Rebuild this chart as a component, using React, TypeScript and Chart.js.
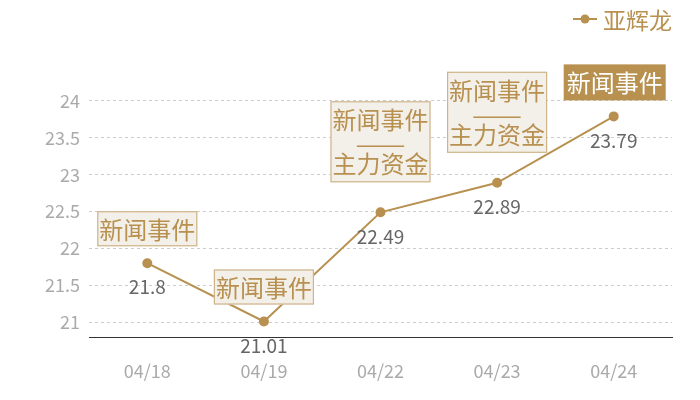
import React, { useEffect, useRef } from "react";
import { Chart, registerables, Plugin } from "chart.js";

Chart.register(...registerables);

const dates = ["04/18", "04/19", "04/22", "04/23", "04/24"];
const prices = [21.8, 21.01, 22.49, 22.89, 23.79];
const yTicks = [21, 21.5, 22, 22.5, 23, 23.5, 24];
const seriesName = "亚辉龙";
// annotation text per point; extra lines go under a dash separator
const events: string[][] = [
  ["新闻事件"],
  ["新闻事件"],
  ["新闻事件", "——", "主力资金"],
  ["新闻事件", "——", "主力资金"],
  ["新闻事件"],
];
const highlighted = [false, false, false, false, true];

const GOLD = "#b8904f";
const FONT = "'Noto Sans CJK SC', 'Noto Sans', sans-serif";

const overlay: Plugin<"line"> = {
  id: "overlay",
  afterDatasetsDraw(chart) {
    const ctx = chart.ctx;
    const meta = chart.getDatasetMeta(0);
    ctx.save();
    // value labels under each point
    ctx.font = `19px ${FONT}`;
    ctx.fillStyle = "#666";
    ctx.textAlign = "center";
    ctx.textBaseline = "middle";
    meta.data.forEach((pt, i) => {
      ctx.fillText(String(prices[i]), pt.x, pt.y + 24);
    });
    // event boxes above each point
    meta.data.forEach((pt, i) => {
      const lines = events[i];
      const multi = lines.length > 1;
      const w = 100;
      const h = multi ? 81 : 35;
      const bottom = pt.y - (multi ? 30 : 17);
      const top = bottom - h;
      const left = pt.x - w / 2;
      if (highlighted[i]) {
        ctx.fillStyle = GOLD;
        ctx.fillRect(left, top, w + 2, h + 1);
      } else {
        ctx.fillStyle = "rgba(243,239,233,0.97)";
        ctx.fillRect(left, top, w, h);
        ctx.strokeStyle = "#cfb48a";
        ctx.lineWidth = 1.2;
        ctx.strokeRect(left + 0.5, top + 0.5, w - 1, h - 1);
      }
      ctx.fillStyle = highlighted[i] ? "#fff" : GOLD;
      ctx.font = `24px ${FONT}`;
      if (multi) {
        ctx.fillText(lines[0], pt.x, top + 19);
        // stretch the dash separator to the reference width
        const dw = ctx.measureText(lines[1]).width || 1;
        ctx.save();
        ctx.translate(pt.x, top + 43);
        ctx.scale(50 / dw, 1);
        ctx.fillText(lines[1], 0, 0);
        ctx.restore();
        ctx.fillText(lines[2], pt.x, top + 63);
      } else {
        ctx.fillText(lines[0], pt.x + (highlighted[i] ? 1 : 0), top + h / 2 + 1);
      }
    });
    // legend, top right
    ctx.strokeStyle = GOLD;
    ctx.lineWidth = 2;
    ctx.beginPath();
    ctx.moveTo(573, 19);
    ctx.lineTo(597, 19);
    ctx.stroke();
    ctx.fillStyle = GOLD;
    ctx.beginPath();
    ctx.arc(585, 19, 4.5, 0, Math.PI * 2);
    ctx.fill();
    ctx.font = `23px ${FONT}`;
    ctx.textAlign = "left";
    ctx.fillText(seriesName, 603, 20);
    ctx.restore();
  },
};

export default function App() {
  const ref = useRef<HTMLCanvasElement | null>(null);

  useEffect(() => {
    const ctx = ref.current?.getContext("2d");
    if (!ctx) return;
    const chart = new Chart(ctx, {
      type: "line",
      data: {
        labels: dates,
        datasets: [
          {
            label: seriesName,
            data: prices,
            borderColor: GOLD,
            backgroundColor: GOLD,
            borderWidth: 2,
            pointRadius: 4,
            pointHoverRadius: 4,
            tension: 0,
          },
        ],
      },
      options: {
        animation: false,
        responsive: false,
        layout: { padding: { top: 64, right: 28, left: 0, bottom: 0 } },
        plugins: { legend: { display: false }, tooltip: { enabled: false } },
        scales: {
          x: {
            offset: true,
            grid: { display: false, drawTicks: false },
            border: { color: "#333", width: 1 },
            ticks: { color: "#aaa", font: { size: 18, family: FONT }, padding: 23 },
            afterFit(scale) {
              scale.height = 63;
            },
          },
          y: {
            min: 20.8,
            max: 24.5,
            afterBuildTicks(scale) {
              scale.ticks = yTicks.map((v) => ({ value: v }));
            },
            grid: { color: "#ccc", drawTicks: false },
            border: { display: false, dash: [3, 3] },
            ticks: {
              color: "#aaa",
              font: { size: 18, family: FONT },
              padding: 9,
              callback: (v) => String(v),
            },
            afterFit(scale) {
              scale.width = 89;
            },
          },
        },
      },
      plugins: [overlay],
    });
    return () => chart.destroy();
  }, []);

  return (
    <div style={{ position: "fixed", left: 0, top: 0, width: 700, height: 400, background: "#fff" }}>
      <canvas ref={ref} width={700} height={400} />
    </div>
  );
}
